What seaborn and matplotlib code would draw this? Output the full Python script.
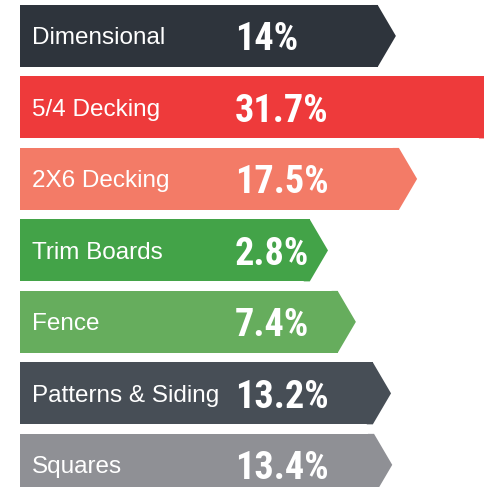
import matplotlib.pyplot as plt
import seaborn as sns
from matplotlib.patches import Polygon

# Data
categories = ["Dimensional", "5/4 Decking", "2X6 Decking", "Trim Boards",
              "Fence", "Patterns & Siding", "Squares"]
shares = [14.0, 31.7, 17.5, 2.8, 7.4, 13.2, 13.4]
value_labels = ["14%", "31.7%", "17.5%", "2.8%", "7.4%", "13.2%", "13.4%"]
colors = ["#2e343c", "#ee3a3b", "#f37b67", "#43a348", "#66ad5d", "#474e56", "#8f9095"]

# Layout constants (data units = percent)
BASE = 45.0      # fixed stub so even small shares have room for the labels
TIP = 3.0        # depth of the arrow head
lengths = [BASE + v for v in shares]

sns.set_style("white")
plt.rcParams["font.family"] = ["Liberation Sans", "DejaVu Sans"]

fig = plt.figure(figsize=(4.85, 4.87), dpi=100)
ax = fig.add_axes([0, 0, 1, 1])

sns.barplot(x=lengths, y=categories, hue=categories, palette=colors, legend=False,
            orient="h", width=0.867, saturation=1, ax=ax)

# Arrow heads built from the bars seaborn drew
for patch in list(ax.patches):
    patch.set_linewidth(0)
    x1 = patch.get_x() + patch.get_width()
    y0 = patch.get_y()
    h = patch.get_height()
    tri = Polygon([(x1 - 1, y0), (x1, y0), (x1 + TIP, y0 + h / 2), (x1, y0 + h), (x1 - 1, y0 + h)],
                  closed=True, facecolor=patch.get_facecolor(), edgecolor="none", linewidth=0)
    ax.add_patch(tri)

for i, (cat, lab) in enumerate(zip(categories, value_labels)):
    ax.text(2.0, i, cat, color="white", fontsize=17.5, va="center_baseline", ha="left")
    ax.text(35.4, i, lab, color="white", fontsize=27.5, fontweight="heavy",
            family=["Roboto Condensed", "DejaVu Sans"],
            va="center_baseline", ha="left")

ax.set_xlim(-3.3, 76.7)
ax.set_ylim(6.31, -0.503)
ax.axis("off")

fig.savefig("out.png", dpi=100)
